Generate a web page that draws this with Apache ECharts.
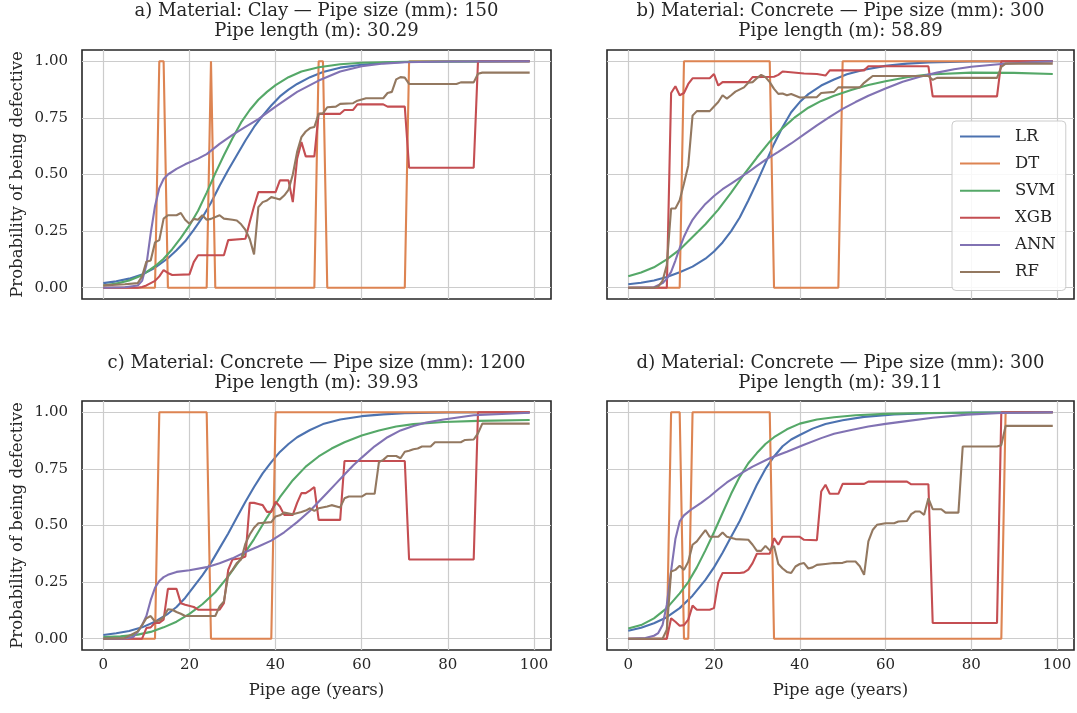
<!DOCTYPE html>
<html><head><meta charset="utf-8">
<script src="https://cdn.jsdelivr.net/npm/echarts@6/dist/echarts.min.js"></script>
<style>html,body{margin:0;padding:0;background:#fff}#c{width:1077px;height:713px}</style>
</head><body><div id="c"></div>
<script>
const models = ['LR','DT','SVM','XGB','ANN','RF'];
const colors = ['#4C72B0','#DD8452','#55A868','#C44E52','#8172B3','#937860'];
const xTicks = [0,20,40,60,80,100];
const yTicks = [0,0.25,0.5,0.75,1];
const titleLines1 = ['a) Material: Clay \u2014 Pipe size (mm): 150','b) Material: Concrete \u2014 Pipe size (mm): 300','c) Material: Concrete \u2014 Pipe size (mm): 1200','d) Material: Concrete \u2014 Pipe size (mm): 300'];
const titleLines2 = ['Pipe length (m): 30.29','Pipe length (m): 58.89','Pipe length (m): 39.93','Pipe length (m): 39.11'];
const xName = 'Pipe age (years)';
const yName = 'Probability of being defective';

// Panel a
const aLR = [[0,0.02],[3,0.028],[6,0.04],[9,0.058],[12,0.088],[15,0.13],[17,0.165],[19,0.205],[21,0.255],[23,0.31],[25,0.375],[27,0.45],[29,0.52],[31,0.585],[33,0.65],[35,0.71],[37,0.76],[39,0.805],[41,0.845],[43,0.875],[45,0.9],[48,0.93],[51,0.953],[55,0.972],[60,0.985],[65,0.993],[70,0.997],[80,0.999],[99,1.0]];
const aDT = [[0,0],[12,0],[13,1],[14,1],[15,0],[24,0],[25,1],[26,0],[49,0],[50,1],[51,1],[52,0],[70,0],[71,1],[99,1]];
const aSVM = [[0,0.01],[3,0.018],[6,0.032],[9,0.055],[12,0.095],[14,0.128],[16,0.17],[18,0.22],[20,0.275],[22,0.34],[24,0.42],[26,0.505],[28,0.585],[30,0.66],[32,0.73],[34,0.785],[36,0.83],[38,0.865],[40,0.895],[43,0.93],[46,0.955],[50,0.974],[55,0.987],[60,0.994],[70,0.998],[99,1.0]];
const aXGB = [[0,0],[8,0],[9,0.003],[10,0.01],[11,0.02],[12,0.03],[13,0.05],[14,0.078],[15,0.065],[16,0.056],[20,0.059],[21,0.113],[22,0.143],[28,0.143],[29,0.21],[33,0.216],[34,0.29],[35,0.36],[36,0.422],[40,0.422],[41,0.474],[43,0.474],[44,0.378],[45,0.57],[46,0.643],[47,0.58],[49,0.58],[50,0.768],[55,0.768],[56,0.785],[58,0.785],[59,0.81],[65,0.81],[66,0.8],[70,0.8],[71,0.53],[86,0.53],[87,1.0],[99,1.0]];
const aANN = [[0,0],[5,0.002],[8,0.01],[9,0.03],[10,0.1],[11,0.24],[12,0.36],[13,0.44],[14,0.48],[15,0.5],[17,0.525],[19,0.545],[22,0.57],[24,0.59],[27,0.635],[30,0.675],[33,0.71],[36,0.745],[40,0.8],[45,0.865],[50,0.915],[55,0.955],[60,0.978],[65,0.99],[70,0.996],[80,0.999],[99,1.0]];
const aRF = [[0,0.01],[5,0.015],[8,0.02],[9,0.05],[10,0.115],[11,0.12],[12,0.2],[13,0.21],[14,0.305],[15,0.32],[17,0.32],[18,0.33],[19,0.3],[20,0.282],[21,0.304],[22,0.3],[23,0.32],[24,0.3],[25,0.304],[27,0.32],[28,0.305],[30,0.3],[31,0.297],[32,0.28],[33,0.255],[34,0.215],[35,0.147],[36,0.356],[37,0.378],[38,0.385],[39,0.4],[40,0.395],[41,0.39],[42,0.407],[43,0.432],[44,0.5],[45,0.6],[46,0.665],[47,0.69],[48,0.705],[49,0.71],[50,0.768],[51,0.77],[52,0.797],[54,0.8],[55,0.812],[58,0.815],[59,0.826],[61,0.837],[65,0.837],[66,0.86],[67,0.865],[68,0.92],[69,0.93],[70,0.928],[71,0.9],[82,0.9],[83,0.907],[86,0.907],[87,0.945],[88,0.95],[99,0.95]];

// Panel b
const bLR = [[0,0.015],[3,0.022],[6,0.032],[9,0.047],[12,0.068],[15,0.093],[18,0.128],[20,0.16],[22,0.2],[24,0.25],[26,0.31],[28,0.385],[30,0.465],[32,0.55],[34,0.635],[36,0.71],[38,0.775],[40,0.82],[42,0.855],[45,0.893],[48,0.92],[51,0.943],[55,0.963],[60,0.98],[65,0.99],[70,0.995],[80,0.999],[99,1.0]];
const bDT = [[0,0],[12,0],[13,1],[33,1],[34,0],[49,0],[50,1],[99,1]];
const bSVM = [[0,0.05],[3,0.067],[6,0.09],[9,0.125],[12,0.168],[15,0.224],[18,0.28],[21,0.345],[24,0.42],[27,0.5],[30,0.575],[33,0.645],[36,0.705],[39,0.755],[42,0.795],[45,0.825],[48,0.848],[52,0.873],[56,0.895],[60,0.912],[65,0.93],[70,0.942],[80,0.95],[90,0.949],[99,0.944]];
const bXGB = [[0,0],[9,0],[10,0.86],[11,0.89],[12,0.85],[13,0.86],[14,0.9],[15,0.925],[19,0.925],[20,0.944],[21,0.893],[22,0.908],[28,0.908],[29,0.93],[34,0.932],[35,0.94],[36,0.955],[41,0.946],[44,0.944],[46,0.937],[47,0.96],[55,0.96],[56,0.978],[70,0.978],[71,0.845],[86,0.845],[87,1.0],[99,1.0]];
const bANN = [[0,0],[6,0.002],[8,0.02],[9,0.04],[10,0.07],[11,0.12],[12,0.175],[13,0.225],[14,0.265],[15,0.3],[16,0.325],[18,0.37],[20,0.405],[22,0.435],[24,0.46],[26,0.485],[28,0.51],[30,0.538],[32,0.565],[35,0.6],[38,0.637],[41,0.677],[44,0.717],[47,0.755],[50,0.79],[53,0.82],[56,0.848],[60,0.88],[64,0.91],[68,0.932],[72,0.95],[76,0.965],[80,0.976],[87,0.988],[93,0.995],[99,1.0]];
const bRF = [[0,0],[6,0],[7,0.005],[8,0.03],[9,0.1],[10,0.35],[11,0.35],[12,0.386],[13,0.46],[14,0.54],[15,0.76],[16,0.78],[19,0.78],[20,0.8],[21,0.82],[22,0.85],[23,0.835],[24,0.85],[25,0.866],[27,0.885],[28,0.905],[29,0.908],[30,0.925],[31,0.94],[32,0.93],[33,0.908],[34,0.878],[35,0.856],[36,0.858],[37,0.85],[38,0.856],[40,0.84],[44,0.842],[45,0.86],[48,0.865],[49,0.885],[54,0.885],[55,0.905],[56,0.92],[57,0.935],[70,0.935],[71,0.918],[72,0.927],[86,0.927],[87,0.975],[88,0.99],[99,0.99]];

// Panel c
const cLR = [[0,0.016],[3,0.024],[6,0.034],[9,0.05],[12,0.075],[15,0.11],[17,0.14],[19,0.18],[21,0.23],[23,0.28],[25,0.335],[27,0.4],[29,0.465],[31,0.535],[33,0.605],[35,0.67],[37,0.73],[39,0.78],[41,0.825],[43,0.86],[45,0.89],[48,0.922],[51,0.948],[55,0.968],[60,0.983],[65,0.991],[70,0.996],[80,0.999],[99,1.0]];
const cDT = [[0,0],[12,0],[13,1],[24,1],[25,0],[39,0],[40,1],[99,1]];
const cSVM = [[0,0.007],[4,0.01],[8,0.018],[11,0.03],[14,0.05],[17,0.075],[20,0.11],[23,0.152],[26,0.205],[29,0.275],[32,0.355],[35,0.44],[38,0.535],[41,0.625],[44,0.7],[47,0.76],[50,0.805],[53,0.84],[56,0.868],[60,0.898],[64,0.92],[68,0.937],[72,0.948],[79,0.957],[87,0.962],[99,0.966]];
const cXGB = [[0,0],[9,0],[10,0.047],[11,0.05],[12,0.07],[13,0.07],[14,0.084],[15,0.22],[17,0.22],[18,0.157],[19,0.15],[21,0.14],[22,0.128],[27,0.128],[28,0.157],[29,0.304],[30,0.35],[32,0.355],[33,0.363],[34,0.6],[35,0.6],[36,0.595],[37,0.59],[38,0.56],[39,0.56],[40,0.605],[41,0.584],[42,0.547],[44,0.547],[45,0.6],[46,0.643],[47,0.643],[48,0.655],[49,0.67],[50,0.525],[55,0.525],[56,0.785],[70,0.785],[71,0.35],[86,0.35],[87,1.0],[99,1.0]];
const cANN = [[0,0],[5,0.001],[7,0.008],[8,0.03],[9,0.06],[10,0.1],[11,0.17],[12,0.225],[13,0.255],[14,0.272],[15,0.282],[17,0.295],[20,0.302],[24,0.316],[27,0.333],[30,0.355],[33,0.383],[36,0.407],[39,0.433],[42,0.47],[45,0.515],[48,0.565],[50,0.605],[52,0.645],[54,0.685],[56,0.725],[58,0.765],[60,0.8],[63,0.85],[66,0.89],[69,0.92],[72,0.94],[75,0.955],[79,0.968],[86,0.987],[99,0.998]];
const cRF = [[0,0],[5,0.003],[8,0.032],[9,0.06],[10,0.09],[11,0.1],[12,0.076],[13,0.08],[14,0.095],[15,0.13],[16,0.128],[17,0.118],[18,0.11],[19,0.1],[26,0.1],[27,0.143],[28,0.165],[29,0.28],[30,0.304],[31,0.334],[32,0.35],[33,0.42],[34,0.46],[35,0.49],[36,0.51],[39,0.515],[40,0.54],[41,0.545],[42,0.557],[44,0.55],[46,0.56],[47,0.566],[48,0.576],[49,0.565],[50,0.576],[52,0.584],[53,0.59],[55,0.58],[56,0.62],[57,0.628],[60,0.628],[61,0.64],[63,0.64],[64,0.78],[65,0.79],[66,0.807],[68,0.807],[69,0.797],[70,0.826],[71,0.83],[72,0.837],[73,0.84],[74,0.849],[76,0.849],[77,0.868],[83,0.868],[84,0.878],[86,0.88],[87,0.907],[88,0.95],[99,0.95]];

// Panel d
const dLR = [[0,0.035],[3,0.048],[6,0.068],[9,0.095],[12,0.135],[15,0.19],[18,0.26],[20,0.315],[22,0.38],[24,0.45],[26,0.52],[28,0.6],[30,0.68],[32,0.75],[34,0.805],[36,0.85],[38,0.88],[40,0.9],[43,0.928],[46,0.948],[50,0.965],[55,0.98],[62,0.991],[70,0.996],[80,0.999],[99,1.0]];
const dDT = [[0,0],[9,0],[10,1],[12,1],[13,0],[14,0],[15,1],[33,1],[34,0],[87,0],[88,1],[99,1]];
const dSVM = [[0,0.045],[3,0.06],[6,0.09],[9,0.135],[12,0.2],[14,0.25],[16,0.315],[18,0.39],[20,0.47],[22,0.555],[24,0.64],[26,0.715],[28,0.775],[30,0.82],[32,0.86],[34,0.89],[37,0.925],[40,0.95],[44,0.968],[48,0.978],[53,0.987],[60,0.993],[70,0.997],[99,1.0]];
const dXGB = [[0,0],[9,0],[10,0.09],[11,0.075],[12,0.057],[13,0.06],[14,0.084],[15,0.146],[16,0.128],[19,0.128],[20,0.135],[21,0.25],[22,0.29],[26,0.29],[27,0.293],[28,0.305],[29,0.334],[30,0.375],[33,0.375],[34,0.444],[35,0.415],[36,0.45],[40,0.45],[41,0.437],[44,0.435],[45,0.65],[46,0.68],[47,0.64],[49,0.64],[50,0.684],[55,0.684],[56,0.694],[65,0.694],[66,0.682],[70,0.682],[71,0.069],[86,0.069],[87,1.0],[99,1.0]];
const dANN = [[0,0],[4,0.003],[6,0.013],[7,0.025],[8,0.06],[9,0.15],[10,0.3],[11,0.44],[12,0.518],[13,0.545],[14,0.56],[15,0.575],[17,0.6],[19,0.628],[21,0.66],[23,0.69],[25,0.715],[27,0.738],[29,0.76],[33,0.797],[37,0.826],[41,0.857],[45,0.886],[48,0.905],[52,0.922],[56,0.937],[60,0.949],[64,0.959],[71,0.976],[79,0.99],[87,0.997],[99,1.0]];
const dRF = [[0,0],[8,0],[9,0.04],[10,0.297],[11,0.304],[12,0.322],[13,0.304],[14,0.34],[15,0.415],[16,0.43],[17,0.455],[18,0.48],[19,0.45],[21,0.45],[22,0.469],[23,0.45],[25,0.44],[28,0.437],[29,0.415],[30,0.388],[31,0.388],[32,0.41],[33,0.39],[34,0.41],[35,0.33],[36,0.31],[37,0.295],[38,0.29],[39,0.319],[40,0.33],[41,0.334],[42,0.31],[43,0.315],[44,0.326],[46,0.33],[48,0.334],[50,0.335],[51,0.341],[53,0.341],[54,0.32],[55,0.282],[56,0.43],[57,0.48],[58,0.503],[60,0.51],[62,0.51],[63,0.518],[65,0.52],[66,0.55],[67,0.562],[68,0.562],[69,0.547],[70,0.62],[71,0.572],[73,0.572],[74,0.557],[77,0.557],[78,0.849],[86,0.849],[87,0.855],[88,0.94],[99,0.94]];

const panels = [
  [aLR,aDT,aSVM,aXGB,aANN,aRF],
  [bLR,bDT,bSVM,bXGB,bANN,bRF],
  [cLR,cDT,cSVM,cXGB,cANN,cRF],
  [dLR,dDT,dSVM,dXGB,dANN,dRF]
];

const FONT = 'DejaVu Serif';
const TXT = '#262626';
const gridPos = [
  {left:82, top:50, width:469, height:249},
  {left:607, top:50, width:467, height:249},
  {left:82, top:401, width:469, height:249},
  {left:607, top:401, width:467, height:249}
];
const titleTops = [1, 1, 353, 353];

const grids = [], xAxes = [], yAxes = [], titles = [], series = [];
gridPos.forEach((g, i) => {
  grids.push(Object.assign({show:true, borderColor:'#262626', borderWidth:1.6, backgroundColor:'rgba(0,0,0,0)', containLabel:false}, g));
  const bottomRow = i >= 2, leftCol = (i % 2) === 0;
  xAxes.push({
    type:'value', gridIndex:i, min:-4.95, max:103.95,
    axisLine:{show:false}, axisTick:{show:false, customValues:xTicks},
    axisLabel:{show:bottomRow, customValues:xTicks, margin:8, fontFamily:FONT, fontSize:15, color:TXT},
    splitLine:{show:true, lineStyle:{color:'#cccccc', width:1.2}},
    name: bottomRow ? xName : '', nameLocation:'middle', nameGap:32,
    nameTextStyle:{fontFamily:FONT, fontSize:16.5, color:TXT}
  });
  yAxes.push({
    type:'value', gridIndex:i, min:-0.05, max:1.05,
    axisLine:{show:false}, axisTick:{show:false, customValues:yTicks},
    axisLabel:{show:leftCol, customValues:yTicks, margin:14, fontFamily:FONT, fontSize:15, color:TXT, formatter: v => v.toFixed(2)},
    splitLine:{show:true, lineStyle:{color:'#cccccc', width:1.2}},
    name: leftCol ? yName : '', nameLocation:'middle', nameGap:56, nameRotate:90,
    nameTextStyle:{fontFamily:FONT, fontSize:16.5, color:TXT}
  });
  titles.push({
    text: titleLines1[i] + '\n' + titleLines2[i],
    left: g.left + g.width / 2, top: titleTops[i], textAlign:'center', padding:0,
    textStyle:{fontFamily:FONT, fontSize:18, fontWeight:'normal', color:TXT, lineHeight:20}
  });
  panels[i].forEach((data, m) => {
    series.push({
      type:'line', name:models[m], xAxisIndex:i, yAxisIndex:i, data:data,
      symbol:'none', showSymbol:false, smooth:false, silent:true,
      lineStyle:{width:2.1, color:colors[m]}, itemStyle:{color:colors[m]}
    });
  });
});

const chart = echarts.init(document.getElementById('c'), null, {renderer:'canvas'});
chart.setOption({
  animation:false,
  backgroundColor:'#ffffff',
  title: titles,
  grid: grids,
  xAxis: xAxes,
  yAxis: yAxes,
  legend: {
    data: models, orient:'vertical', left:952, top:121,
    itemWidth:40, itemHeight:14, itemGap:10.1, padding:[7,10,10,7],
    itemStyle:{opacity:0},
    backgroundColor:'rgba(255,255,255,0.85)', borderColor:'#cccccc', borderWidth:1, borderRadius:4,
    textStyle:{fontFamily:FONT, fontSize:16.5, color:TXT, padding:[0,0,0,10]}
  },
  series: series
});
</script>
</body></html>
